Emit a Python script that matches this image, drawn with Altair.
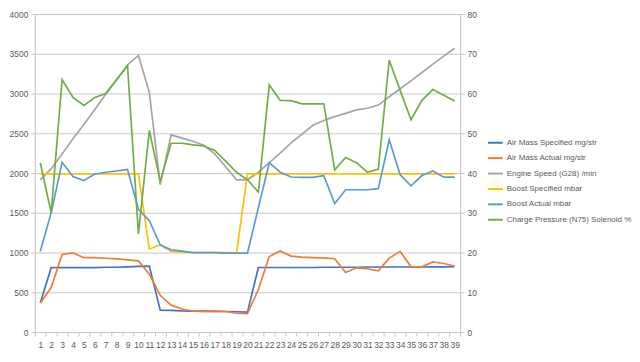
import altair as alt
import pandas as pd

cats = list(range(1, 40))

names = [
    "Air Mass Specified  mg/str",
    "Air Mass Actual  mg/str",
    "Engine Speed (G28)  /min",
    "Boost Specified  mbar",
    "Boost Actual  mbar",
    "Charge Pressure (N75) Solenoid  %",
]
colors = ["#4472C4", "#ED7D31", "#A5A5A5", "#FFC000", "#5B9BD5", "#70AD47"]

air_mass_spec = [365, 810, 810, 810, 810, 810, 815, 815, 820, 825, 830, 275, 272, 265, 262, 262, 260, 258, 255, 250,
                 812, 812, 812, 812, 812, 812, 815, 815, 815, 815, 818, 818, 818, 818, 818, 818, 820, 820, 822]
air_mass_act = [365, 560, 975, 995, 935, 935, 928, 920, 908, 895, 730, 462, 338, 290, 265, 256, 262, 258, 236, 230,
                535, 950, 1020, 955, 942, 937, 932, 922, 748, 808, 796, 770, 930, 1015, 820, 820, 882, 862, 830]
engine_speed = [1915, 2055, 2240, 2430, 2610, 2800, 2990, 3170, 3360, 3480, 3015, 1855, 2480, 2440, 2400, 2350,
                2240, 2080, 1915, 1915, 2010, 2130, 2250, 2380, 2490, 2600, 2660, 2710, 2750, 2795, 2815, 2855,
                2960, 3060, 3160, 3265, 3370, 3470, 3570]
boost_spec = [1990, 1990, 1990, 1990, 1990, 1990, 1990, 1990, 1990, 1990, 1045, 1095, 1015, 1005, 1000, 1000, 1000,
              998, 995, 1990, 1990, 1990, 1990, 1990, 1990, 1990, 1990, 1990, 1990, 1990, 1990, 1990, 1990, 1990,
              1990, 1990, 1990, 1990, 1990]
boost_act = [1015, 1500, 2135, 1955, 1905, 1988, 2010, 2026, 2045, 1545, 1400, 1098, 1035, 1018, 1000, 1000, 998,
             992, 992, 992, 1565, 2130, 2010, 1950, 1945, 1945, 1968, 1615, 1790, 1790, 1790, 1803, 2418, 1977, 1840,
             1968, 2026, 1948, 1948]
charge_pct = [42.6, 30.0, 63.5, 59.0, 57.0, 59.0, 60.0, 63.5, 67.0, 24.7, 50.7, 37.9, 47.5, 47.5, 47.1, 46.8, 45.7,
              43.0, 40.2, 38.3, 35.2, 62.2, 58.3, 58.2, 57.4, 57.4, 57.4, 40.8, 43.9, 42.6, 40.2, 41.0, 68.4, 60.8,
              53.4, 58.3, 61.0, 59.6, 58.1]

rows = []
for name, vals in zip(names[:5], [air_mass_spec, air_mass_act, engine_speed, boost_spec, boost_act]):
    for c, v in zip(cats, vals):
        rows.append({"x": c, "series": name, "value": v})
df_left = pd.DataFrame(rows)
df_right = pd.DataFrame({"x": cats, "series": names[5], "value": charge_pct})

FONT = "Liberation Sans"
LBL = "#595959"
GRID = "#C8C8C8"
AX = 8.5

xenc = alt.X(
    "x:O",
    bandPosition=0.5,
    scale=alt.Scale(type="band", paddingInner=0, paddingOuter=0),
    axis=alt.Axis(title=None, labelAngle=0, labelOverlap=False, tickBand="extent", grid=False,
                  domainColor=GRID, tickColor=GRID, tickSize=4, labelFont=FONT, labelFontSize=AX,
                  labelColor=LBL, labelPadding=5),
)

color = alt.Color(
    "series:N",
    scale=alt.Scale(domain=names, range=colors),
    sort=names,
    legend=alt.Legend(title=None, orient="none", legendX=455, legendY=121, symbolType="stroke",
                      symbolStrokeWidth=2, symbolSize=225, labelFont=FONT, labelFontSize=8,
                      labelColor=LBL, rowPadding=2.5, labelOffset=3, labelLimit=220),
)

left = alt.Chart(df_left).mark_line(strokeWidth=1.7).encode(
    x=xenc,
    y=alt.Y("value:Q", scale=alt.Scale(domain=[0, 4000], nice=False),
            axis=alt.Axis(title=None, values=list(range(0, 4001, 500)), format="d", grid=True, gridColor=GRID,
                          domainColor=GRID, tickColor=GRID, tickSize=4, labelFont=FONT, labelFontSize=AX,
                          labelColor=LBL, labelPadding=3)),
    color=color,
)

right = alt.Chart(df_right).mark_line(strokeWidth=1.7).encode(
    x=xenc,
    y=alt.Y("value:Q", scale=alt.Scale(domain=[0, 80], nice=False),
            axis=alt.Axis(title=None, orient="right", values=list(range(0, 81, 10)), format="d", grid=False,
                          domainColor=GRID, tickColor=GRID, tickSize=4, labelFont=FONT, labelFontSize=AX,
                          labelColor=LBL, labelPadding=3)),
    color=color,
)

chart = alt.layer(left, right).resolve_scale(y="independent").properties(
    width=428, height=320,
    autosize=alt.AutoSizeParams(type="none"),
    padding={"left": 27, "top": 5, "right": 173, "bottom": 18},
).configure_view(stroke=None).configure(background="white")

chart.save("out.html", embed_options={"renderer": "svg", "actions": False})
